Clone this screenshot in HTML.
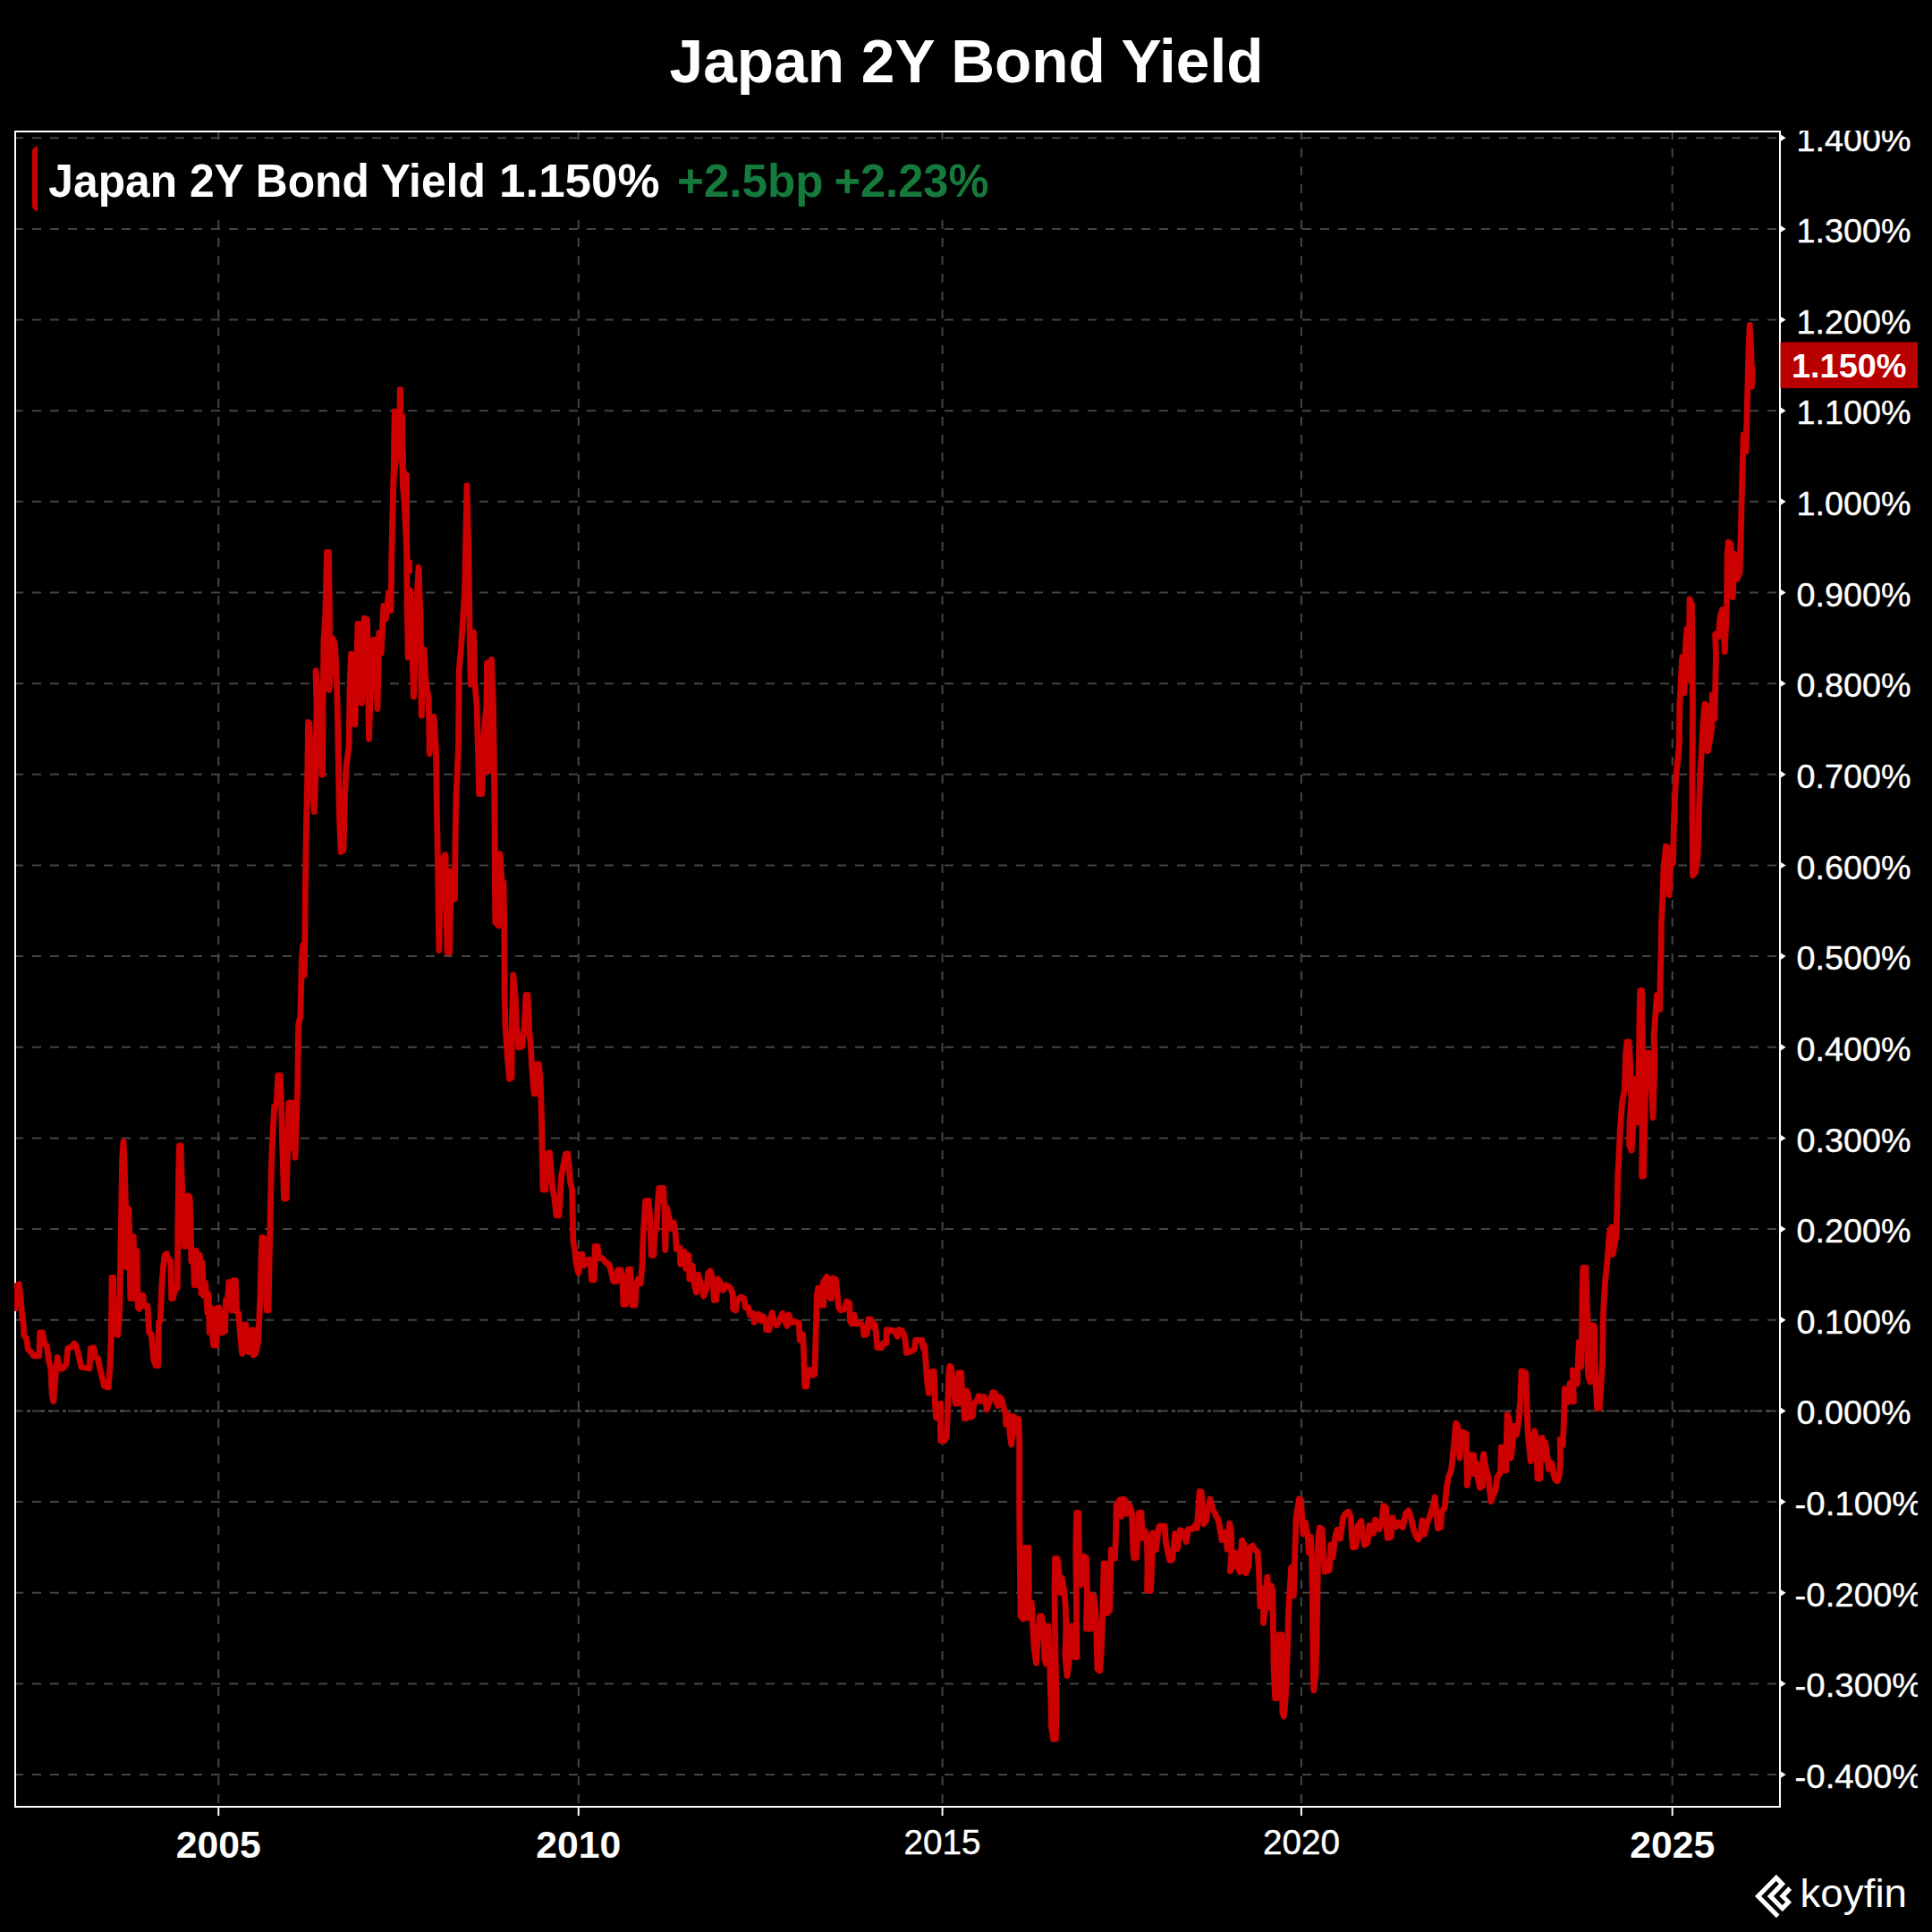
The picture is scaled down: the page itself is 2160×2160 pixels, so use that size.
<!DOCTYPE html><html><head><meta charset="utf-8"><title>Japan 2Y Bond Yield</title><style>html,body{margin:0;padding:0;background:#000;width:2160px;height:2160px;overflow:hidden}svg{display:block}</style></head><body>
<svg width="2160" height="2160" viewBox="0 0 2160 2160">
<defs><clipPath id="plot"><rect x="16" y="148" width="1973" height="1871"/></clipPath><clipPath id="yax"><rect x="1991" y="146" width="153" height="1900"/></clipPath></defs>
<rect width="2160" height="2160" fill="#000"/>
<g stroke="#444" stroke-width="2" stroke-dasharray="10 10" fill="none"><line x1="16" x2="1990" y1="154.2" y2="154.2"/><line x1="16" x2="1990" y1="255.9" y2="255.9"/><line x1="16" x2="1990" y1="357.5" y2="357.5"/><line x1="16" x2="1990" y1="459.2" y2="459.2"/><line x1="16" x2="1990" y1="560.8" y2="560.8"/><line x1="16" x2="1990" y1="662.5" y2="662.5"/><line x1="16" x2="1990" y1="764.2" y2="764.2"/><line x1="16" x2="1990" y1="865.8" y2="865.8"/><line x1="16" x2="1990" y1="967.5" y2="967.5"/><line x1="16" x2="1990" y1="1069.1" y2="1069.1"/><line x1="16" x2="1990" y1="1170.8" y2="1170.8"/><line x1="16" x2="1990" y1="1272.5" y2="1272.5"/><line x1="16" x2="1990" y1="1374.1" y2="1374.1"/><line x1="16" x2="1990" y1="1475.8" y2="1475.8"/><line x1="16" x2="1990" y1="1577.4" y2="1577.4"/><line x1="16" x2="1990" y1="1679.1" y2="1679.1"/><line x1="16" x2="1990" y1="1780.8" y2="1780.8"/><line x1="16" x2="1990" y1="1882.4" y2="1882.4"/><line x1="16" x2="1990" y1="1984.1" y2="1984.1"/><line x1="244.3" x2="244.3" y1="146" y2="2020"/><line x1="646.8" x2="646.8" y1="146" y2="2020"/><line x1="1053.6" x2="1053.6" y1="146" y2="2020"/><line x1="1454.9" x2="1454.9" y1="146" y2="2020"/><line x1="1869.7" x2="1869.7" y1="146" y2="2020"/></g>
<line x1="30" x2="1990" y1="1577.4" y2="1577.4" stroke="#5a5a5a" stroke-width="2" stroke-dasharray="4 12 4 4 4 12"/>
<rect x="36" y="158" width="1090" height="88" fill="#000"/>
<rect x="17" y="147" width="1973" height="1873" fill="none" stroke="#fff" stroke-width="2"/>
<g clip-path="url(#plot)"><path d="M434.3 641.0L436.2 560.7L437.4 512.3L438.0 457.4L444.3 457.1L444.3 432.4L450.5 432.4L450.5 463.0L453.0 463.0L453.0 503.5L453.9 503.5L453.9 529.1L458.0 529.1L458.0 610.8L458.6 625.8L461.1 625.8L461.1 641.0L453.0 641.0L451.1 610.8L448.6 560.7L447.1 544.7L446.4 514.1L446.2 514.1L443.3 534.7L442.4 560.7L440.5 641.0Z" fill="#cc0000"/><path d="M16.7 1465.8L18.3 1437.5L21.3 1435.8L23.0 1451.7L24.7 1470.0L26.3 1481.7L26.7 1492.5L29.7 1496.7L31.3 1508.3L34.7 1511.7L37.5 1515.8L43.7 1515.8L44.7 1490.0L47.5 1490.0L49.7 1501.7L52.5 1505.0L54.2 1520.0L56.7 1530.0L58.3 1560.0L59.7 1566.7L62.5 1533.3L64.2 1517.5L65.8 1530.0L70.0 1530.0L74.2 1525.0L75.8 1507.5L79.7 1506.3L83.0 1502.0L85.3 1505.0L88.3 1516.7L90.8 1528.3L100.0 1530.0L101.3 1507.5L104.7 1506.7L106.7 1517.5L109.2 1518.3L111.7 1530.0L114.2 1540.0L116.7 1550.0L121.3 1550.8L123.0 1526.7L124.2 1500.0L124.7 1460.0L125.0 1428.3L126.7 1428.3L127.5 1490.0L131.7 1492.5L133.3 1475.0L134.2 1443.3L135.0 1393.3L135.8 1343.3L136.7 1293.3L138.0 1275.8L139.3 1310.0L140.3 1340.0L141.3 1416.7L143.7 1351.7L144.7 1376.7L145.8 1451.7L148.3 1451.7L149.2 1382.5L150.3 1426.7L153.0 1398.3L154.2 1461.7L155.8 1463.3L157.5 1448.3L160.0 1448.3L160.8 1460.0L165.0 1460.0L166.7 1490.0L169.2 1491.7L171.7 1520.0L174.2 1526.7L176.7 1526.7L177.5 1478.3L179.2 1476.7L180.8 1438.3L182.5 1416.7L184.2 1403.3L186.3 1401.7L188.3 1408.3L190.8 1410.0L191.7 1451.7L193.3 1451.7L195.8 1440.0L198.3 1440.0L198.8 1376.7L199.7 1310.0L200.5 1280.8L202.0 1280.8L203.0 1310.0L204.7 1360.0L205.8 1393.3L208.0 1393.3L208.7 1340.0L210.3 1336.7L212.0 1338.3L213.3 1376.7L213.8 1410.0L216.0 1397.5L217.3 1436.7L219.7 1398.3L221.7 1437.0L223.3 1403.3L225.0 1445.8L226.3 1411.7L227.5 1448.3L229.7 1434.2L230.8 1451.7L232.0 1468.3L233.0 1446.7L234.2 1490.0L235.8 1461.7L237.5 1493.3L238.7 1504.2L241.7 1504.2L242.5 1462.5L245.0 1462.0L246.7 1476.7L248.3 1490.0L251.7 1488.3L252.5 1453.3L254.7 1451.7L255.8 1433.3L258.3 1433.3L259.2 1465.0L260.8 1431.7L263.3 1431.7L264.7 1466.7L266.7 1468.3L268.7 1493.3L270.8 1513.3L272.5 1481.7L274.7 1480.8L275.8 1510.0L278.3 1511.7L280.0 1487.5L282.5 1486.7L283.3 1515.0L285.8 1513.3L288.3 1501.7L290.8 1455.0L292.0 1410.0L293.0 1383.3L295.0 1384.2L296.3 1426.7L298.3 1465.0L300.0 1465.0L301.3 1401.7L302.5 1343.3L303.7 1293.3L303.7 1293.3L305.0 1266.7L306.7 1236.7L309.2 1235.0L310.8 1202.5L313.3 1202.5L314.7 1241.7L315.8 1283.3L317.5 1340.0L320.0 1340.0L321.7 1283.3L322.7 1233.3L324.3 1232.5L325.8 1283.3L328.0 1233.3L330.0 1294.2L331.7 1243.3L332.7 1216.7L333.3 1166.7L333.7 1145.0L335.8 1136.7L336.7 1100.0L337.5 1070.0L338.7 1056.7L340.3 1090.0L340.8 1050.0L341.3 1000.0L341.2 1000.0L341.8 965.0L342.5 920.0L343.8 865.0L344.5 807.5L346.0 808.8L348.0 865.0L351.2 907.5L353.0 865.0L354.0 790.0L353.0 750.0L356.2 790.0L358.8 840.0L360.5 866.2L361.0 790.0L362.0 715.0L363.8 687.5L365.5 617.5L367.5 617.5L368.5 690.0L368.0 771.2L370.0 740.0L372.0 713.8L374.5 720.0L376.5 765.0L377.5 802.5L378.5 865.0L379.5 915.0L381.2 952.5L384.0 950.0L385.5 890.0L387.0 857.5L390.0 835.0L391.2 765.0L392.5 731.2L395.5 732.5L397.0 810.0L400.0 697.5L402.5 697.5L404.5 786.2L407.5 691.2L410.5 692.5L412.5 826.2L416.2 716.2L418.8 715.0L422.0 792.5L423.8 707.5L426.2 730.0L428.8 677.5L431.2 692.5L434.5 662.5L437.0 682.5L438.0 615.0L439.3 560.7L440.3 524.7L440.9 487.3L441.3 460.5L446.9 459.9L447.4 435.8L447.9 464.9L449.5 474.8L450.1 524.7L454.4 532.7L453.4 560.7L454.6 587.1L454.6 610.8L455.0 665.0L456.2 735.0L458.5 660.0L462.5 778.8L465.0 690.0L468.0 634.5L470.0 690.0L471.2 800.0L474.0 726.2L476.2 765.0L479.2 780.0L480.2 842.5L485.0 801.2L487.5 840.0L488.5 915.0L489.5 965.0L490.8 1062.5L492.5 990.0L495.0 960.0L498.0 955.5L499.0 1015.0L500.0 1065.0L502.5 1065.0L503.5 1015.0L504.5 973.8L506.2 1005.0L508.5 1005.0L509.0 940.0L510.0 890.0L512.5 835.0L513.2 750.0L515.5 723.8L517.5 692.5L519.5 662.5L521.0 590.0L522.0 543.0L523.8 615.0L525.0 700.0L526.2 765.0L529.5 707.0L530.5 760.0L533.0 787.5L534.5 840.0L535.5 887.5L538.8 887.5L540.5 840.0L541.2 816.2L543.8 790.0L544.5 741.2L546.2 862.5L549.5 737.5L551.5 790.0L552.5 865.0L553.2 940.0L554.5 1023.0L553.0 940.0L553.8 1031.2L557.5 1035.0L559.0 955.0L561.2 987.5L563.0 986.2L563.8 1040.0L564.2 1115.0L565.0 1147.5L567.0 1177.5L569.5 1206.2L572.0 1205.0L572.5 1140.0L573.8 1090.0L576.2 1115.0L577.5 1147.5L580.0 1171.2L583.8 1170.0L586.2 1147.5L588.0 1112.5L590.0 1112.5L591.5 1152.5L593.0 1165.0L594.5 1190.0L597.0 1222.5L600.0 1222.5L599.5 1190.0L602.5 1190.0L604.5 1215.0L605.5 1252.5L606.2 1290.0L607.0 1330.0L610.0 1330.0L611.2 1290.0L614.5 1288.8L616.2 1310.0L618.0 1330.0L620.0 1340.0L622.0 1358.8L625.0 1358.8L627.5 1315.0L632.5 1290.0L635.0 1290.0L637.5 1321.7L639.7 1330.0L640.3 1363.3L640.8 1388.3L642.5 1396.7L644.2 1413.3L646.7 1423.3L648.3 1402.5L650.8 1402.5L652.5 1415.0L655.8 1411.7L657.5 1408.3L660.0 1408.3L661.3 1430.8L664.2 1430.8L665.3 1393.3L668.0 1393.3L669.7 1406.7L673.3 1406.7L677.5 1411.7L680.8 1413.3L683.3 1421.7L685.8 1432.5L689.2 1432.5L690.8 1420.0L694.2 1420.0L695.8 1430.0L697.0 1458.3L699.7 1458.3L701.3 1430.0L702.5 1419.2L704.7 1419.2L705.8 1446.7L707.0 1459.2L710.0 1459.2L711.3 1438.3L713.3 1430.0L716.3 1435.0L718.0 1413.3L719.2 1380.0L720.0 1368.3L721.7 1342.5L725.0 1342.5L726.7 1360.0L727.5 1380.0L728.3 1403.3L730.8 1403.3L732.0 1380.0L734.2 1371.7L735.3 1346.7L736.7 1328.3L741.7 1328.3L743.0 1355.0L743.7 1397.5L745.3 1350.0L747.5 1358.3L749.7 1373.3L753.3 1366.7L755.3 1380.0L756.3 1396.7L760.0 1395.0L760.8 1413.3L765.0 1399.2L766.7 1418.3L770.0 1403.3L770.8 1430.0L774.2 1415.0L775.8 1433.3L778.3 1445.0L780.8 1425.0L784.2 1438.3L786.7 1449.2L790.0 1440.0L791.7 1423.3L794.2 1420.8L796.7 1430.0L798.3 1453.3L800.8 1453.3L802.5 1430.0L805.0 1433.3L808.3 1442.5L811.7 1436.7L816.7 1440.0L819.2 1446.7L819.7 1463.3L822.5 1465.0L824.2 1453.3L828.3 1450.0L831.7 1451.7L833.3 1461.7L836.7 1461.7L838.3 1470.0L841.7 1468.3L843.3 1478.3L845.8 1471.7L848.3 1469.2L850.8 1476.7L853.3 1471.7L855.8 1476.7L856.7 1486.7L860.0 1486.7L861.7 1473.3L863.3 1467.5L865.0 1476.7L868.3 1481.7L871.7 1475.0L875.0 1468.3L877.5 1476.7L880.0 1482.5L882.0 1470.0L884.2 1478.3L888.3 1477.5L893.3 1479.2L894.2 1498.3L897.5 1491.7L898.7 1513.3L899.7 1550.0L901.7 1550.0L903.0 1531.7L906.7 1531.7L908.3 1537.5L910.8 1536.7L911.7 1506.7L912.5 1480.0L913.3 1446.7L914.7 1440.0L917.5 1459.2L920.8 1459.2L920.0 1435.0L924.2 1427.5L925.8 1449.2L929.2 1451.7L930.8 1429.2L934.2 1430.0L935.8 1443.3L937.5 1461.7L940.0 1465.0L944.2 1463.3L946.7 1455.0L949.7 1456.7L950.3 1476.7L952.5 1480.0L955.0 1470.0L957.5 1480.0L961.7 1479.2L965.0 1483.3L965.8 1492.5L969.2 1491.7L970.8 1475.0L973.7 1475.0L975.8 1483.3L978.3 1480.8L979.7 1493.3L980.8 1506.7L985.8 1506.7L987.5 1501.7L990.8 1501.7L991.3 1486.7L995.8 1487.5L1000.0 1488.0L1003.3 1494.2L1005.0 1486.7L1008.3 1487.5L1010.8 1493.3L1012.5 1501.7L1013.3 1512.5L1018.3 1510.8L1022.5 1508.3L1023.7 1498.3L1026.7 1498.3L1030.8 1498.3L1032.0 1506.7L1033.7 1504.2L1034.7 1518.3L1035.8 1535.0L1037.0 1548.3L1038.3 1557.5L1040.3 1556.7L1042.0 1533.3L1044.2 1533.3L1045.0 1551.7L1045.3 1570.0L1046.7 1585.0L1048.7 1570.8L1051.7 1569.2L1051.3 1593.3L1051.7 1610.8L1055.8 1610.8L1058.0 1606.7L1059.2 1585.0L1060.0 1560.0L1060.8 1535.0L1061.7 1527.5L1063.3 1528.3L1065.3 1543.3L1066.7 1560.0L1068.3 1569.2L1070.8 1569.2L1071.7 1535.0L1074.7 1535.0L1075.3 1551.7L1076.7 1560.0L1078.3 1585.8L1080.0 1585.8L1080.8 1555.0L1082.5 1560.0L1083.7 1576.7L1085.0 1584.2L1087.5 1583.3L1088.3 1571.7L1090.0 1568.3L1092.5 1565.0L1094.2 1560.8L1096.7 1566.7L1100.0 1561.7L1102.5 1570.0L1103.3 1575.8L1105.8 1568.3L1108.3 1561.7L1110.0 1556.7L1112.5 1557.5L1114.2 1568.3L1115.8 1571.7L1117.5 1561.7L1120.0 1565.0L1122.5 1575.0L1124.2 1580.0L1124.7 1592.5L1127.5 1581.7L1129.2 1605.0L1130.8 1615.0L1132.5 1593.3L1133.0 1583.3L1135.8 1586.7L1136.3 1601.7L1138.7 1586.7L1139.7 1610.0L1139.7 1682.0L1140.1 1734.7L1141.0 1806.8L1143.9 1810.1L1144.9 1756.6L1146.0 1730.4L1149.8 1730.4L1150.4 1778.4L1149.3 1809.0L1153.3 1791.5L1154.8 1822.1L1156.3 1844.0L1158.5 1859.3L1160.2 1833.0L1162.4 1806.8L1164.6 1806.8L1166.4 1817.8L1167.2 1830.9L1167.9 1854.9L1169.4 1860.3L1171.6 1817.8L1173.3 1844.0L1174.4 1887.7L1175.1 1909.5L1175.5 1931.3L1177.7 1944.4L1180.3 1944.4L1181.0 1909.5L1180.3 1865.8L1179.5 1822.1L1179.0 1778.4L1179.5 1742.4L1182.1 1742.4L1183.8 1756.6L1185.4 1780.6L1187.5 1764.2L1189.7 1778.4L1191.3 1798.1L1191.9 1822.1L1190.8 1850.5L1193.0 1873.5L1194.8 1861.4L1196.3 1826.5L1198.5 1817.8L1200.0 1833.0L1201.7 1852.7L1203.9 1852.7L1203.5 1800.3L1202.8 1734.7L1203.5 1691.5L1205.7 1691.5L1206.1 1721.6L1207.2 1756.6L1208.7 1771.9L1212.2 1740.2L1214.4 1741.3L1215.3 1778.4L1214.4 1821.0L1219.2 1821.0L1220.3 1782.8L1223.1 1785.0L1224.7 1800.3L1225.8 1822.1L1226.9 1865.8L1229.7 1868.0L1231.2 1848.3L1232.8 1800.3L1234.1 1747.9L1235.6 1747.9L1236.7 1778.4L1237.8 1803.6L1240.6 1800.3L1241.5 1767.5L1242.2 1732.6L1245.0 1734.7L1246.5 1742.4L1247.6 1712.9L1248.1 1682.3L1252.0 1676.9L1254.2 1695.4L1255.9 1675.8L1258.5 1678.0L1260.7 1692.2L1262.9 1683.4L1265.5 1691.1L1266.2 1712.9L1266.8 1734.7L1267.7 1741.7L1270.6 1741.3L1272.1 1712.9L1273.4 1691.1L1276.0 1691.1L1277.1 1719.5L1279.9 1711.2L1282.1 1717.3L1283.0 1745.7L1282.6 1778.4L1286.5 1778.4L1288.0 1745.7L1288.7 1714.0L1291.3 1717.3L1292.4 1732.6L1295.2 1708.5L1296.8 1705.9L1302.2 1706.4L1303.3 1723.8L1305.5 1734.7L1307.7 1744.6L1310.5 1743.9L1312.7 1726.0L1313.6 1714.7L1316.4 1731.5L1319.3 1710.7L1323.0 1712.9L1326.3 1723.8L1328.4 1709.6L1332.8 1709.6L1336.1 1705.3L1338.3 1708.5L1339.4 1691.1L1341.1 1667.5L1343.3 1668.1L1344.2 1691.1L1345.9 1703.7L1348.5 1699.8L1350.3 1686.7L1352.9 1675.8L1355.7 1686.7L1359.0 1693.2L1362.3 1699.8L1364.5 1712.9L1366.0 1721.6L1368.8 1712.9L1371.0 1719.5L1372.1 1732.1L1373.9 1712.9L1374.7 1703.1L1376.5 1712.9L1376.9 1734.7L1375.4 1756.6L1379.1 1750.0L1380.9 1735.8L1384.1 1752.2L1386.3 1757.7L1387.4 1734.7L1388.5 1722.1L1390.7 1726.0L1391.8 1745.7L1392.9 1758.8L1395.7 1752.2L1397.2 1730.4L1400.5 1728.2L1402.7 1732.6L1406.0 1734.7L1407.5 1756.6L1408.2 1778.4L1408.8 1795.9L1411.4 1776.3L1412.5 1800.3L1412.5 1814.5L1414.7 1795.9L1415.8 1774.1L1416.9 1763.1L1418.4 1797.0L1421.3 1773.0L1422.8 1778.4L1423.5 1822.1L1424.1 1865.8L1425.6 1898.6L1427.8 1898.6L1428.8 1871.3L1430.1 1827.7L1432.8 1827.7L1433.2 1871.3L1433.9 1915.0L1435.4 1919.0L1437.6 1893.2L1439.3 1849.5L1440.4 1805.8L1441.5 1784.0L1443.7 1752.3L1446.3 1784.0L1447.6 1740.3L1449.1 1696.6L1452.4 1675.8L1454.6 1676.9L1455.7 1696.6L1457.2 1715.2L1459.4 1702.1L1462.3 1718.4L1463.3 1735.9L1465.5 1718.4L1466.6 1740.3L1467.3 1784.0L1467.7 1827.7L1468.2 1871.3L1468.8 1889.9L1471.0 1871.3L1472.1 1828.7L1473.2 1762.1L1473.8 1718.4L1475.4 1708.0L1478.2 1709.7L1479.7 1740.3L1481.3 1757.3L1486.3 1755.6L1487.8 1727.2L1490.0 1741.4L1492.8 1718.4L1495.0 1710.1L1498.3 1720.2L1501.6 1696.6L1504.4 1692.2L1507.5 1690.0L1510.3 1696.6L1511.4 1718.4L1512.5 1729.8L1515.8 1729.4L1518.0 1705.8L1521.9 1700.5L1523.4 1718.4L1525.6 1727.2L1528.9 1725.0L1531.1 1705.3L1535.4 1714.5L1537.6 1699.2L1542.0 1709.7L1545.3 1696.6L1546.8 1683.5L1549.6 1685.7L1550.3 1707.5L1551.2 1719.5L1555.1 1718.4L1556.8 1696.6L1560.6 1707.1L1563.8 1702.1L1568.2 1707.5L1571.5 1692.2L1574.7 1688.9L1577.4 1696.6L1580.2 1709.7L1583.5 1718.4L1585.7 1721.1L1588.3 1716.3L1590.0 1699.9L1592.7 1715.2L1595.5 1703.1L1598.8 1694.4L1602.1 1683.5L1604.2 1673.7L1606.4 1696.6L1607.5 1708.6L1610.8 1707.5L1611.9 1690.0L1615.2 1685.7L1617.3 1663.8L1619.5 1650.7L1622.4 1644.2L1623.9 1631.1L1626.1 1609.2L1627.6 1591.3L1629.8 1593.9L1631.1 1620.1L1632.0 1630.0L1634.8 1600.9L1639.2 1602.7L1639.8 1631.1L1640.3 1660.6L1642.5 1642.0L1643.6 1626.3L1647.9 1627.1L1648.6 1648.1L1651.2 1636.5L1652.3 1652.9L1654.5 1663.4L1657.3 1661.6L1657.8 1631.1L1658.8 1625.6L1661.0 1640.9L1664.3 1652.9L1665.4 1666.0L1666.9 1678.7L1669.8 1670.4L1672.0 1666.0L1674.1 1650.7L1677.4 1646.8L1678.5 1618.0L1681.8 1631.1L1683.5 1644.2L1684.4 1609.2L1685.1 1581.3L1687.2 1587.4L1688.3 1609.2L1689.4 1630.0L1691.6 1609.2L1692.7 1594.4L1695.3 1604.4L1698.2 1587.4L1699.7 1565.5L1701.0 1532.8L1705.8 1534.9L1706.9 1565.5L1707.6 1587.4L1708.4 1604.8L1710.2 1622.3L1711.3 1633.7L1714.1 1613.6L1715.6 1600.0L1717.8 1609.2L1718.9 1652.9L1721.7 1653.2L1722.8 1620.4L1723.9 1607.3L1726.0 1631.3L1727.6 1612.1L1730.4 1631.3L1731.5 1642.3L1734.8 1635.7L1737.0 1648.8L1739.1 1654.9L1741.3 1655.8L1743.5 1648.8L1744.6 1631.3L1744.2 1609.5L1747.2 1615.6L1748.5 1587.7L1749.4 1552.7L1752.3 1553.8L1753.3 1567.6L1755.1 1546.6L1757.7 1565.8L1759.5 1566.9L1758.2 1532.0L1761.6 1535.2L1763.2 1547.2L1764.3 1522.1L1765.4 1500.3L1767.5 1528.2L1768.6 1487.2L1769.1 1445.7L1769.7 1417.3L1773.0 1417.3L1774.1 1456.6L1775.2 1478.4L1774.8 1522.1L1775.6 1537.4L1777.8 1545.1L1779.6 1522.1L1780.7 1481.7L1782.8 1482.8L1783.5 1539.6L1785.7 1574.5L1788.3 1574.5L1790.0 1548.3L1791.6 1522.1L1792.2 1478.4L1793.1 1456.6L1794.4 1434.7L1796.6 1412.9L1798.1 1395.4L1799.2 1379.0L1801.8 1371.8L1803.1 1402.4L1805.3 1391.1L1806.9 1382.3L1808.0 1347.4L1808.8 1313.0L1810.0 1292.5L1811.2 1265.0L1813.8 1230.0L1816.2 1220.0L1817.5 1180.0L1818.8 1165.0L1821.2 1165.0L1822.5 1187.5L1823.8 1230.0L1822.0 1255.0L1821.5 1280.0L1824.0 1286.2L1826.2 1255.0L1827.5 1206.2L1829.5 1230.0L1831.2 1255.0L1832.5 1180.0L1833.0 1130.0L1833.8 1107.5L1835.5 1107.5L1836.2 1155.0L1837.0 1205.0L1836.2 1255.0L1835.5 1315.0L1837.5 1315.0L1838.8 1255.0L1840.0 1205.0L1841.2 1177.5L1844.5 1177.5L1846.2 1205.0L1848.0 1249.5L1849.5 1205.0L1850.0 1180.0L1849.0 1158.8L1851.2 1130.0L1852.5 1112.5L1855.5 1128.8L1856.2 1092.5L1857.0 1065.0L1857.5 1030.0L1858.8 1005.0L1860.0 970.0L1862.5 946.2L1864.5 947.5L1865.0 980.0L1866.2 1000.5L1868.0 960.5L1870.5 965.0L1871.2 930.0L1872.5 892.5L1873.8 867.5L1876.2 846.2L1877.5 830.0L1877.4 815.1L1877.9 787.2L1879.3 759.2L1880.7 734.6L1883.0 774.6L1884.1 731.3L1885.8 703.3L1886.9 760.6L1888.6 703.3L1889.1 669.8L1891.4 675.4L1891.9 731.3L1892.5 787.2L1892.2 843.1L1892.0 855.0L1892.0 905.0L1892.5 978.8L1895.5 975.0L1898.0 960.0L1899.5 905.0L1900.5 872.5L1902.5 837.5L1903.7 815.1L1905.9 787.2L1908.7 790.0L1910.1 815.1L1909.3 839.7L1913.7 815.1L1914.3 776.6L1917.1 803.4L1918.5 731.3L1917.6 708.9L1921.3 711.7L1923.2 689.4L1925.5 681.5L1928.3 728.5L1930.5 675.4L1931.1 619.5L1932.4 606.1L1935.2 608.3L1937.2 667.6L1939.4 619.5L1942.2 647.4L1945.0 640.4L1946.4 591.5L1947.8 535.6L1949.2 485.9L1952.0 504.9L1953.4 451.8L1954.8 395.9L1956.2 363.5L1957.9 395.9L1958.4 432.2L1959.0 408.5" fill="none" stroke="#cc0000" stroke-width="6.8" stroke-linejoin="round" stroke-linecap="butt"/></g>
<line x1="244.3" x2="244.3" y1="2021" y2="2030" stroke="#fff" stroke-width="2"/>
<line x1="646.8" x2="646.8" y1="2021" y2="2030" stroke="#fff" stroke-width="2"/>
<line x1="1053.6" x2="1053.6" y1="2021" y2="2030" stroke="#fff" stroke-width="2"/>
<line x1="1454.9" x2="1454.9" y1="2021" y2="2030" stroke="#fff" stroke-width="2"/>
<line x1="1869.7" x2="1869.7" y1="2021" y2="2030" stroke="#fff" stroke-width="2"/>
<path d="M1991 150.6L1996.6 154.2L1991 157.8Z" fill="#fff"/>
<path d="M1991 252.3L1996.6 255.9L1991 259.5Z" fill="#fff"/>
<path d="M1991 353.9L1996.6 357.5L1991 361.1Z" fill="#fff"/>
<path d="M1991 455.6L1996.6 459.2L1991 462.8Z" fill="#fff"/>
<path d="M1991 557.2L1996.6 560.8L1991 564.4Z" fill="#fff"/>
<path d="M1991 658.9L1996.6 662.5L1991 666.1Z" fill="#fff"/>
<path d="M1991 760.6L1996.6 764.2L1991 767.8Z" fill="#fff"/>
<path d="M1991 862.2L1996.6 865.8L1991 869.4Z" fill="#fff"/>
<path d="M1991 963.9L1996.6 967.5L1991 971.1Z" fill="#fff"/>
<path d="M1991 1065.5L1996.6 1069.1L1991 1072.7Z" fill="#fff"/>
<path d="M1991 1167.2L1996.6 1170.8L1991 1174.4Z" fill="#fff"/>
<path d="M1991 1268.9L1996.6 1272.5L1991 1276.1Z" fill="#fff"/>
<path d="M1991 1370.5L1996.6 1374.1L1991 1377.7Z" fill="#fff"/>
<path d="M1991 1472.2L1996.6 1475.8L1991 1479.4Z" fill="#fff"/>
<path d="M1991 1573.8L1996.6 1577.4L1991 1581.0Z" fill="#fff"/>
<path d="M1991 1675.5L1996.6 1679.1L1991 1682.7Z" fill="#fff"/>
<path d="M1991 1777.2L1996.6 1780.8L1991 1784.4Z" fill="#fff"/>
<path d="M1991 1878.8L1996.6 1882.4L1991 1886.0Z" fill="#fff"/>
<path d="M1991 1980.5L1996.6 1984.1L1991 1987.7Z" fill="#fff"/>
<g clip-path="url(#yax)" font-family="'Liberation Sans', sans-serif" font-size="36" fill="#fff" stroke="#fff" stroke-width="0.4"><text x="2008.5" y="169.2" textLength="128" lengthAdjust="spacingAndGlyphs">1.400%</text><text x="2008.5" y="270.9" textLength="128" lengthAdjust="spacingAndGlyphs">1.300%</text><text x="2008.5" y="372.5" textLength="128" lengthAdjust="spacingAndGlyphs">1.200%</text><text x="2008.5" y="474.2" textLength="128" lengthAdjust="spacingAndGlyphs">1.100%</text><text x="2008.5" y="575.8" textLength="128" lengthAdjust="spacingAndGlyphs">1.000%</text><text x="2008.5" y="677.5" textLength="128" lengthAdjust="spacingAndGlyphs">0.900%</text><text x="2008.5" y="779.2" textLength="128" lengthAdjust="spacingAndGlyphs">0.800%</text><text x="2008.5" y="880.8" textLength="128" lengthAdjust="spacingAndGlyphs">0.700%</text><text x="2008.5" y="982.5" textLength="128" lengthAdjust="spacingAndGlyphs">0.600%</text><text x="2008.5" y="1084.1" textLength="128" lengthAdjust="spacingAndGlyphs">0.500%</text><text x="2008.5" y="1185.8" textLength="128" lengthAdjust="spacingAndGlyphs">0.400%</text><text x="2008.5" y="1287.5" textLength="128" lengthAdjust="spacingAndGlyphs">0.300%</text><text x="2008.5" y="1389.1" textLength="128" lengthAdjust="spacingAndGlyphs">0.200%</text><text x="2008.5" y="1490.8" textLength="128" lengthAdjust="spacingAndGlyphs">0.100%</text><text x="2008.5" y="1592.4" textLength="128" lengthAdjust="spacingAndGlyphs">0.000%</text><text x="2006.5" y="1694.1" textLength="143" lengthAdjust="spacingAndGlyphs">-0.100%</text><text x="2006.5" y="1795.8" textLength="143" lengthAdjust="spacingAndGlyphs">-0.200%</text><text x="2006.5" y="1897.4" textLength="143" lengthAdjust="spacingAndGlyphs">-0.300%</text><text x="2006.5" y="1999.1" textLength="143" lengthAdjust="spacingAndGlyphs">-0.400%</text></g>
<rect x="1990.5" y="382.5" width="153.5" height="51.5" fill="#b80000"/>
<text x="2003" y="422.3" textLength="128.5" lengthAdjust="spacingAndGlyphs" font-family="'Liberation Sans', sans-serif" font-weight="bold" font-size="36" fill="#fff">1.150%</text>
<text x="196.8" y="2077" textLength="95" lengthAdjust="spacingAndGlyphs" font-family="'Liberation Sans', sans-serif" font-weight="bold" font-size="42" fill="#fff">2005</text>
<text x="599.3" y="2077" textLength="95" lengthAdjust="spacingAndGlyphs" font-family="'Liberation Sans', sans-serif" font-weight="bold" font-size="42" fill="#fff">2010</text>
<text x="1010.6" y="2072.5" textLength="86" lengthAdjust="spacingAndGlyphs" font-family="'Liberation Sans', sans-serif" font-size="38" fill="#fff" stroke="#fff" stroke-width="0.4">2015</text>
<text x="1411.9" y="2072.5" textLength="86" lengthAdjust="spacingAndGlyphs" font-family="'Liberation Sans', sans-serif" font-size="38" fill="#fff" stroke="#fff" stroke-width="0.4">2020</text>
<text x="1822.2" y="2077" textLength="95" lengthAdjust="spacingAndGlyphs" font-family="'Liberation Sans', sans-serif" font-weight="bold" font-size="42" fill="#fff">2025</text>
<text x="748.6" y="91.6" textLength="664" lengthAdjust="spacingAndGlyphs" font-family="'Liberation Sans', sans-serif" font-weight="bold" font-size="68" fill="#fff">Japan 2Y Bond Yield</text>
<path d="M42.5 163.5 h-0.5 a6 6 0 0 0 -6 6 v60.5 a6 6 0 0 0 6 6 h0.5 a3 3 0 0 1 -0.5 -3 v-66.5 a3 3 0 0 1 0.5 -3 Z" fill="#cc0000"/>
<text x="54.3" y="219.7" textLength="488.5" lengthAdjust="spacingAndGlyphs" font-family="'Liberation Sans', sans-serif" font-weight="bold" font-size="51.5" fill="#fff">Japan 2Y Bond Yield</text>
<text x="558" y="219.7" textLength="179.5" lengthAdjust="spacingAndGlyphs" font-family="'Liberation Sans', sans-serif" font-weight="bold" font-size="51.5" fill="#fff">1.150%</text>
<text x="757" y="219.7" textLength="163.5" lengthAdjust="spacingAndGlyphs" font-family="'Liberation Sans', sans-serif" font-weight="bold" font-size="51.5" fill="#157a3c">+2.5bp</text>
<text x="932.4" y="219.7" textLength="173" lengthAdjust="spacingAndGlyphs" font-family="'Liberation Sans', sans-serif" font-weight="bold" font-size="51.5" fill="#157a3c">+2.23%</text>
<path d="M1985.9 2095.7L1996.1 2106.3L1983.0 2120.0L1992.6 2130.1L1996.3 2126.5L1989.3 2120.0L1999.4 2109.3L2003.1 2113.1L1996.5 2120.0L2003.1 2126.8L1992.7 2137.2L1975.8 2120.0L1989.0 2106.3L1985.7 2103.0L1969.1 2120.0L1989.5 2140.6L1985.9 2144.2L1962.0 2120.0Z" fill="#fff"/>
<text x="2012.5" y="2131.8" textLength="119.5" lengthAdjust="spacingAndGlyphs" font-family="'Liberation Sans', sans-serif" font-size="45" fill="#fff">koyfin</text>
</svg>
</body></html>
